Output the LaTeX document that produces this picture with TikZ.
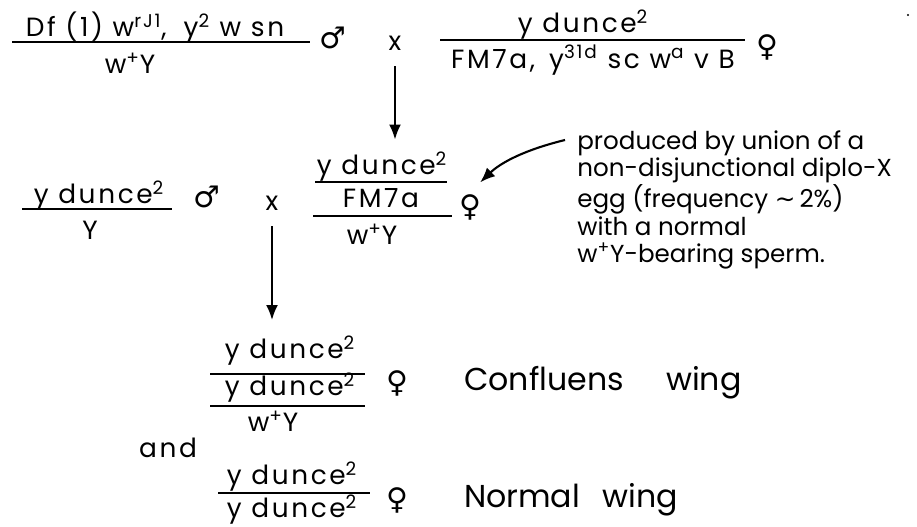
\documentclass[tikz,border=0pt]{standalone}
\usepackage{fontspec}
\setmainfont{Poppins}
\newfontfamily\wide{Poppins}[LetterSpace=10]
\newfontfamily\symfont{DejaVu Sans}
\usetikzlibrary{arrows.meta}
\newcommand{\spr}[1]{\textsuperscript{#1}}
\newcommand{\dce}{y dunce\textsuperscript{2}}
\newcommand{\male}{\symfont ♂}
\newcommand{\female}{\symfont ♀}

\begin{document}
\begin{tikzpicture}[x=0.02cm,y=-0.02cm,
  gene/.style={inner sep=1pt,font=\wide\fontsize{15}{17}\selectfont},
  sexsym/.style={inner sep=1pt,font=\fontsize{17}{17}\selectfont},
  pheno/.style={inner sep=1pt,anchor=west,font=\fontsize{18}{20}\selectfont},
  chrbar/.style={line width=1.3pt},
  crossarr/.style={-{Latex[length=3mm,width=2.4mm]},line width=1.2pt}]
  \useasboundingbox (0,0) rectangle (917,527);
  % parents
  \node[gene] (fnum1) at (155,28) {Df (1) w\spr{rJ1},\; y\spr{2} w sn};
  \node[gene] (fden1) at (130,63) {w\spr{+}Y};
  \draw[chrbar] (12,42) -- (310,42);
  \node[sexsym] (male1) at (333,38) {\male};
  \node[gene] (cross1) at (395,43) {x};
  \node[gene] (fnum2) at (583,25) {\dce};
  \node[gene] (fden2) at (593,60) {FM7a,\, y\spr{31d} sc w\spr{a} v B};
  \draw[chrbar] (440,40) -- (745,40);
  \node[sexsym] (female1) at (767,47) {\female};
  \fill (908,15) circle (1.2);
  % second cross
  \node[gene] (lnum) at (99,196) {\dce};
  \draw[chrbar] (22,209) -- (172,209);
  \node[gene] (lden) at (90,230) {Y};
  \node[sexsym] (male2) at (207,197) {\male};
  \node[gene] (cross2) at (272,203) {x};
  \node[gene] (mnum) at (382,167) {\dce};
  \draw[chrbar] (315,182) -- (447,182);
  \node[gene] (mmid) at (381,198) {FM7a};
  \draw[chrbar] (313,216) -- (452,216);
  \node[gene] (mden) at (372,234) {w\spr{+}Y};
  \node[sexsym] (female2) at (470,207) {\female};
  \node[anchor=north west,align=left,inner sep=0pt,
        font=\fontsize{14}{15.6}\selectfont] (note) at (577,130)
       {produced by union of a\\non-disjunctional diplo-X\\
        egg (frequency {\symfont ∼}\,2\%)\\with a normal\\
        w\spr{+}Y-bearing sperm.};
  \coordinate (notetail) at (565,140);
  % offspring
  \node[gene] (bnum1) at (290,351) {\dce};
  \draw[chrbar] (210,374) -- (365,374);
  \node[gene] (bnum2) at (290,388) {\dce};
  \draw[chrbar] (210,406) -- (365,406);
  \node[gene] (bden) at (273,421) {w\spr{+}Y};
  \node[sexsym] (female3) at (397,383) {\female};
  \node[pheno] (conf) at (462,383) {Confluens\hspace{0.85cm}wing};
  \node[gene] (andlbl) at (168,448) {and};
  \node[gene] (cnum) at (292,477) {\dce};
  \draw[chrbar] (218,493) -- (370,493);
  \node[gene] (cden) at (292,510) {\dce};
  \node[sexsym] (female4) at (397,500) {\female};
  \node[pheno] (normal) at (462,500) {Normal\hspace{0.45cm}wing};
  % arrows
  \draw[crossarr,shorten <=8pt,shorten >=6pt] (cross1.south) -- (cross1.south |- mnum.north);
  \draw[crossarr,shorten <=8pt,shorten >=8pt] (cross2.south) -- (cross2.south |- bnum1.north);
  \draw[crossarr,shorten >=8pt] (notetail) to[bend right=15] (female2.north);
\end{tikzpicture}
\end{document}
